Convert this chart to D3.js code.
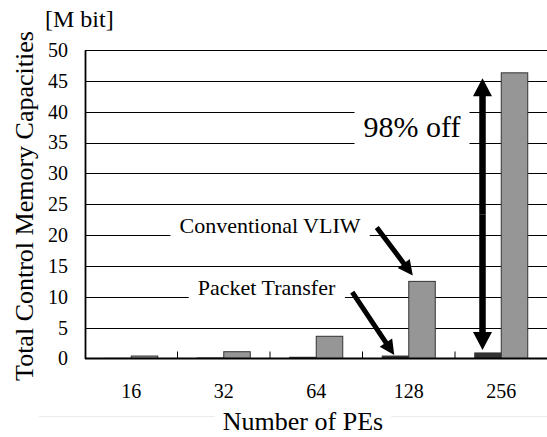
<!DOCTYPE html>
<html>
<head>
<meta charset="utf-8">
<script src="https://cdn.jsdelivr.net/npm/d3@7"></script>
<style>
  html, body { margin: 0; padding: 0; background: #fff; }
  svg { display: block; }
  svg text { font-family: "Liberation Serif", "DejaVu Serif", serif !important; fill: #000; }
</style>
</head>
<body>
<div id="chart"></div>
<script>
// data
var categories = ["16", "32", "64", "128", "256"];
var seriesNames = ["Packet Transfer", "Conventional VLIW"];
var packetValues = [0.02, 0.08, 0.2, 0.4, 0.9];
var vliwValues = [0.4, 1.1, 3.6, 12.5, 46.3];
var yTicks = [0, 5, 10, 15, 20, 25, 30, 35, 40, 45, 50];

var W = 547, H = 437;
var margin = { top: 50, right: 0, bottom: 78, left: 85 };
var serif = "Liberation Serif";

var svg = d3.select("#chart").append("svg")
    .attr("width", W)
    .attr("height", H)
    .attr("font-family", serif);

var x0 = d3.scaleBand()
    .domain(categories)
    .range([margin.left, W - margin.right + 0.5])
    .paddingInner(0).paddingOuter(0);

var x1 = d3.scaleBand()
    .domain(seriesNames)
    .range([0, x0.bandwidth()])
    .paddingInner(0).paddingOuter(0.745);

var y = d3.scaleLinear()
    .domain([0, 50])
    .range([H - margin.bottom - 0.5, margin.top]);

var color = d3.scaleOrdinal().domain(seriesNames).range(["#333333", "#969696"]);

var rows = categories.map(function(c, i) {
    return { cat: c, values: [
        { key: seriesNames[0], value: packetValues[i] },
        { key: seriesNames[1], value: vliwValues[i] }
    ] };
});

// faint outer frame line under the x title
svg.append("line")
    .attr("x1", 39).attr("x2", W)
    .attr("y1", 416.5).attr("y2", 416.5)
    .attr("stroke", "#ebebeb");

// gridlines
svg.append("g").selectAll("line")
    .data(yTicks.filter(function(d) { return d > 0; }))
    .enter().append("line")
    .attr("x1", margin.left).attr("x2", W)
    .attr("y1", function(d) { return Math.round(y(d)) + 0.5; })
    .attr("y2", function(d) { return Math.round(y(d)) + 0.5; })
    .attr("stroke", "#000")
    .attr("stroke-width", 1)
    .attr("shape-rendering", "crispEdges");

// annotation labels with white boxes (they cut the gridlines)
function label(txt, cx, baseY, size) {
    var g = svg.append("g");
    var r = g.append("rect").attr("fill", "#fff");
    var t = g.append("text")
        .attr("x", cx).attr("y", baseY)
        .attr("text-anchor", "middle")
        .attr("font-family", serif)
        .style("font-size", size + "px")
        .text(txt);
    var b = t.node().getBBox();
    r.attr("x", b.x - 9).attr("y", b.y - 2)
     .attr("width", b.width + 18).attr("height", b.height + 4);
}
label("Conventional VLIW", 270, 233, 22);
label("Packet Transfer", 266.5, 295, 22);
label("98% off", 412, 137, 30);

// bars
var groups = svg.append("g").selectAll("g")
    .data(rows)
    .enter().append("g")
    .attr("transform", function(d) { return "translate(" + x0(d.cat) + ",0)"; });

groups.selectAll("rect")
    .data(function(d) { return d.values; })
    .enter().append("rect")
    .attr("x", function(d) { return x1(d.key); })
    .attr("width", x1.bandwidth())
    .attr("y", function(d) { return y(d.value); })
    .attr("height", function(d) { return y(0) - y(d.value); })
    .attr("fill", function(d) { return color(d.key); })
    .attr("stroke", "#333")
    .attr("stroke-width", 1);

// arrows
function arrowPath(xa, ya, xb, yb, shaft, headW, headL) {
    var dx = xb - xa, dy = yb - ya;
    var len = Math.sqrt(dx * dx + dy * dy);
    var ux = dx / len, uy = dy / len;
    var px = -uy, py = ux;
    var bx = xb - ux * headL, by = yb - uy * headL;
    var s = shaft / 2, h = headW / 2;
    var pts = [
        [xa + px * s, ya + py * s],
        [bx + px * s, by + py * s],
        [bx + px * h, by + py * h],
        [xb, yb],
        [bx - px * h, by - py * h],
        [bx - px * s, by - py * s],
        [xa - px * s, ya - py * s]
    ];
    return "M" + pts.map(function(p) { return p.join(","); }).join("L") + "Z";
}

var xPk128 = x0("128") + x1(seriesNames[0]);
var xVl128 = x0("128") + x1(seriesNames[1]);
svg.append("path")
    .attr("d", arrowPath(xVl128 - 32, y(vliwValues[3]) - 54, xVl128 + 4, y(vliwValues[3]) - 6, 5, 15, 15))
    .attr("fill", "#000");
svg.append("path")
    .attr("d", arrowPath(xPk128 - 30, y(packetValues[3]) - 64, xPk128 + 12, y(packetValues[3]) - 1, 5, 15, 15))
    .attr("fill", "#000");

// double arrow 98% off
var xd = x0("256") + 27.5;
var yLow = y(packetValues[4]) - 3, yHigh = y(vliwValues[4]) + 5.5;
var mid = (yLow + yHigh) / 2;
svg.append("path").attr("d", arrowPath(xd, mid, xd, yLow, 6.5, 19, 18)).attr("fill", "#000");
svg.append("path").attr("d", arrowPath(xd, mid, xd, yHigh, 6.5, 19, 18)).attr("fill", "#000");

// axes
var yAxis = svg.append("g")
    .attr("transform", "translate(" + margin.left + ",0)")
    .call(d3.axisLeft(y).tickValues(yTicks).tickSize(0).tickPadding(17))
    .attr("font-family", serif).attr("font-size", 20);
yAxis.select(".domain").attr("stroke", "#000").attr("stroke-width", 1.8);

var xAxis = svg.append("g")
    .attr("transform", "translate(0," + y(0) + ")")
    .call(d3.axisBottom(x0).tickSize(0).tickPadding(25))
    .attr("font-family", serif).attr("font-size", 20);
xAxis.select(".domain").remove();
xAxis.append("line")
    .attr("x1", margin.left).attr("x2", W)
    .attr("stroke", "#000").attr("stroke-width", 1.8);
xAxis.selectAll(".bound")
    .data(categories.slice(1))
    .enter().append("line")
    .attr("class", "bound")
    .attr("x1", function(d) { return x0(d); })
    .attr("x2", function(d) { return x0(d); })
    .attr("y1", 0).attr("y2", -7)
    .attr("stroke", "#000");

// titles
svg.append("text")
    .attr("x", 45).attr("y", 26.5)
    .style("font-size", "24px")
    .text("[M bit]");

svg.append("text")
    .attr("transform", "translate(33,206) rotate(-90)")
    .attr("text-anchor", "middle")
    .style("font-size", "26px")
    .text("Total Control Memory Capacities");

var xt = svg.append("g");
var xtRect = xt.append("rect").attr("fill", "#fff");
var xtText = xt.append("text")
    .attr("x", 303).attr("y", 430)
    .attr("text-anchor", "middle")
    .style("font-size", "26px")
    .text("Number of PEs");
var xb = xtText.node().getBBox();
xtRect.attr("x", xb.x - 8).attr("y", xb.y).attr("width", xb.width + 16).attr("height", xb.height);
</script>
</body>
</html>
